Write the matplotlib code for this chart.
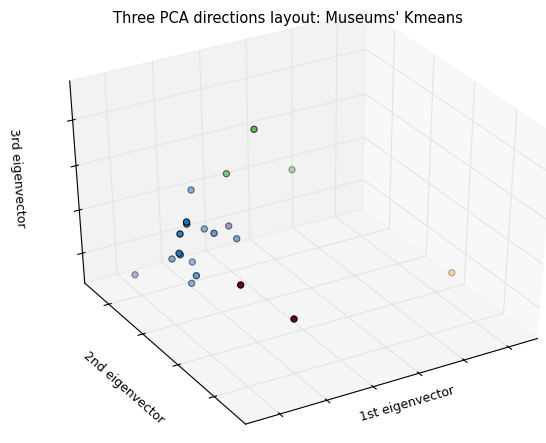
import numpy as np
import matplotlib
matplotlib.use("Agg")
import matplotlib.pyplot as plt

plt.rcParams['grid.color'] = '#e3e3e3'
plt.rcParams['grid.linewidth'] = 0.8
plt.rcParams['font.family'] = ['DejaVu Sans']

# ---- data ----
pc1 = [0.206, 0.622, -0.977, 1.196, 2.296, 2.200, 2.486, 1.281, 1.505, 0.952, 2.430,
       2.312, 2.144, 1.612, 2.106, 1.901, 0.864, 2.528, 2.137, 1.566, -2.933]
pc2 = [0.011, 0.255, 0.482, 0.501, -0.834, -0.706, -0.899, 0.047, -0.522, -0.419, -0.772,
       -0.644, -0.169, -0.023, -0.793, -0.374, -0.091, 0.410, -2.037, -2.686, -1.448]
pc3 = [-2.193, -1.189, -0.717, -0.826, -1.278, -1.124, -1.113, -0.269, -0.608, -0.265, -0.590,
       -0.439, 0.023, 0.341, -0.012, 0.507, -0.311, 0.665, -0.667, -0.204, 0.923]
labels = [2, 2, 2, 0, 0, 0, 0, 0, 0, 0, 0, 0, 0, 0, 0, 0, 3, 3, 4, 4, 1]
cluster_colors = [(0.10, 0.45, 0.82), (1.0, 0.5, 0.0), (0.20, 0.63, 0.17),
                  (0.42, 0.24, 0.60), (0.45, 0.0, 0.05)]
xticks = [-3, -2, -1, 0, 1, 2]
yticks = [-2, -1, 0, 1]
zticks = [-2, -1, 0, 1]
xlim = (-3.66, 2.72)
ylim = (-2.84, 1.73)
zlim = (-2.83, 1.71)

fig = plt.figure(figsize=(5.46, 4.43), dpi=100)
ax = fig.add_axes([0.0234, 0.0256, 1.0519, 0.9654], projection='3d', elev=-143, azim=120.5)
ax.apply_aspect = lambda position=None: None
ax.set_box_aspect((1, 1, 1), zoom=1.0)

colors = [cluster_colors[l] for l in labels]
ax.scatter(pc1, pc2, pc3, c=colors, edgecolor='k', linewidths=0.8, s=20, depthshade=True)

ax.set_xticks(xticks); ax.set_yticks(yticks); ax.set_zticks(zticks)
ax.set_xlim(*xlim); ax.set_ylim(*ylim); ax.set_zlim(*zlim)
ax.xaxis.set_ticklabels([]); ax.yaxis.set_ticklabels([]); ax.zaxis.set_ticklabels([])
ax.set_xlabel("1st eigenvector", fontsize=9, labelpad=-8)
ax.set_ylabel("2nd eigenvector", fontsize=9)
ax.set_zlabel("3rd eigenvector", fontsize=9)
fig.text(0.528, 0.959, "Three PCA directions layout: Museums' Kmeans",
         ha='center', va='center', fontsize=10.5)
fig.savefig("out.png", dpi=100)
